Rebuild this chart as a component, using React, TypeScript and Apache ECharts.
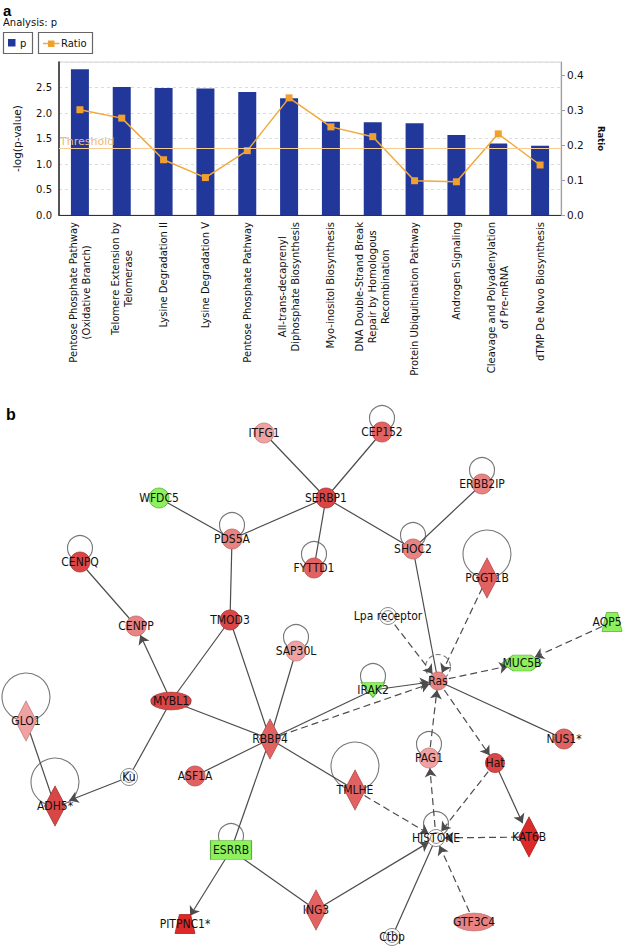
import React, { useEffect, useRef } from 'react';
import * as echarts from 'echarts';

// ---------- Panel a data ----------
const pathways: string[] = [
  'Pentose Phosphate Pathway\n(Oxidative Branch)',
  'Telomere Extension by\nTelomerase',
  'Lysine Degradation II',
  'Lysine Degradation V',
  'Pentose Phosphate Pathway',
  'All-trans-decaprenyl\nDiphosphate Biosynthesis',
  'Myo-inositol Biosynthesis',
  'DNA Double-Strand Break\nRepair by Homologous\nRecombination',
  'Protein Ubiquitination Pathway',
  'Androgen Signaling',
  'Cleavage and Polyadenylation\nof Pre-mRNA',
  'dTMP De Novo Biosynthesis',
];
const negLogP: number[] = [2.86, 2.51, 2.49, 2.48, 2.41, 2.29, 1.83, 1.82, 1.8, 1.57, 1.4, 1.36];
const ratio: number[] = [0.301, 0.277, 0.158, 0.107, 0.184, 0.335, 0.252, 0.224, 0.098, 0.095, 0.232, 0.143];
const thresholdValue = 1.3;

// ---------- Panel b data ----------
// [gene, x, y, shape, expression level (-1 down, 0 none, 1..5 up)]
const genes: [string, number, number, string, number][] = [
  ['ITFG1', 264, 433, 'circle', 1],
  ['CEP152', 382, 432, 'circle', 3],
  ['SERBP1', 326, 498, 'circle', 4],
  ['WFDC5', 159, 498, 'circle', -1],
  ['ERBB2IP', 482, 484, 'circle', 2],
  ['PDS5A', 232, 539, 'circle', 2],
  ['SHOC2', 413, 549, 'circle', 2],
  ['FYTTD1', 314, 568, 'circle', 3],
  ['CENPQ', 80, 562, 'circle', 4],
  ['PGGT1B', 487, 578, 'diamond', 3],
  ['Lpa receptor', 388, 616, 'complex', 0],
  ['AQP5', 612, 622, 'transporter', -1],
  ['CENPP', 136, 626, 'circle', 2],
  ['TMOD3', 230, 620, 'circle', 4],
  ['SAP30L', 296, 651, 'circle', 1],
  ['MUC5B', 522, 663, 'hexagon', -1],
  ['GLO1', 26, 721, 'diamond', 1],
  ['MYBL1', 171, 701, 'ellipse', 4],
  ['IRAK2', 373, 690, 'kinase', -1],
  ['Ras', 438, 681, 'circle', 2],
  ['RBBP4', 270, 739, 'diamond', 3],
  ['NUS1*', 564, 739, 'circle', 3],
  ['PAG1', 429, 758, 'circle', 1],
  ['Hat', 495, 763, 'circle', 4],
  ['Ku', 129, 777, 'complex', 0],
  ['ASF1A', 195, 776, 'circle', 3],
  ['TMLHE', 355, 790, 'diamond', 3],
  ['ADH5*', 55, 806, 'diamond', 4],
  ['HISTONE', 436, 838, 'complex', 0],
  ['KAT6B', 529, 837, 'diamond', 5],
  ['ESRRB', 231, 850, 'rect', -1],
  ['PITPNC1*', 185, 924, 'transporter', 5],
  ['ING3', 316, 910, 'diamond', 3],
  ['Ctbp', 392, 937, 'complex', 0],
  ['GTF3C4', 474, 922, 'ellipse', 2],
];

// [source, target, relation]: binds = solid, acts = solid arrow, indirect = dashed arrow
const relations: [string, string, string][] = [
  ['ITFG1', 'SERBP1', 'binds'],
  ['CEP152', 'SERBP1', 'binds'],
  ['WFDC5', 'PDS5A', 'binds'],
  ['PDS5A', 'SERBP1', 'binds'],
  ['SERBP1', 'FYTTD1', 'binds'],
  ['SERBP1', 'SHOC2', 'binds'],
  ['ERBB2IP', 'SHOC2', 'binds'],
  ['PDS5A', 'TMOD3', 'binds'],
  ['CENPQ', 'CENPP', 'binds'],
  ['SHOC2', 'Ras', 'binds'],
  ['Lpa receptor', 'Ras', 'indirect'],
  ['PGGT1B', 'Ras', 'indirect'],
  ['Ras', 'MUC5B', 'indirect'],
  ['AQP5', 'MUC5B', 'indirect'],
  ['IRAK2', 'Ras', 'acts'],
  ['RBBP4', 'IRAK2', 'binds'],
  ['RBBP4', 'Ras', 'indirect'],
  ['Ras', 'NUS1*', 'binds'],
  ['Ras', 'Hat', 'indirect'],
  ['PAG1', 'Ras', 'indirect'],
  ['HISTONE', 'PAG1', 'indirect'],
  ['Hat', 'HISTONE', 'indirect'],
  ['Hat', 'KAT6B', 'acts'],
  ['KAT6B', 'HISTONE', 'indirect'],
  ['TMLHE', 'HISTONE', 'indirect'],
  ['RBBP4', 'TMLHE', 'binds'],
  ['ING3', 'HISTONE', 'acts'],
  ['Ctbp', 'HISTONE', 'binds'],
  ['GTF3C4', 'HISTONE', 'indirect'],
  ['ESRRB', 'ING3', 'binds'],
  ['ESRRB', 'PITPNC1*', 'acts'],
  ['RBBP4', 'ESRRB', 'binds'],
  ['RBBP4', 'ASF1A', 'binds'],
  ['MYBL1', 'RBBP4', 'binds'],
  ['TMOD3', 'MYBL1', 'binds'],
  ['TMOD3', 'RBBP4', 'binds'],
  ['SAP30L', 'RBBP4', 'binds'],
  ['MYBL1', 'CENPP', 'acts'],
  ['MYBL1', 'Ku', 'binds'],
  ['Ku', 'ADH5*', 'acts'],
  ['GLO1', 'ADH5*', 'binds'],
];

// self-interactions: [gene, large loop, dashed]
const selfLoops: [string, boolean, boolean][] = [
  ['CEP152', false, false],
  ['ERBB2IP', false, false],
  ['PDS5A', false, false],
  ['SHOC2', false, false],
  ['FYTTD1', false, false],
  ['CENPQ', false, false],
  ['SAP30L', false, false],
  ['IRAK2', false, false],
  ['PAG1', false, false],
  ['HISTONE', false, false],
  ['Ras', false, true],
  ['ESRRB', false, false],
  ['PGGT1B', true, false],
  ['GLO1', true, false],
  ['ADH5*', true, false],
  ['TMLHE', true, false],
];

const levelColor: Record<string, string> = {
  '-1': '#8ef05c',
  '0': '#ffffff',
  '1': '#f0a2a2',
  '2': '#e88383',
  '3': '#e26262',
  '4': '#da4646',
  '5': '#dc2a2a',
};
const levelBorder: Record<string, string> = {
  '-1': '#5fae3c',
  '0': '#8a8a8a',
  '1': '#c58080',
  '2': '#c06868',
  '3': '#b85050',
  '4': '#a83a3a',
  '5': '#a82222',
};

const shapeSymbol: Record<string, { symbol: string; size: number | number[] }> = {
  circle: { symbol: 'circle', size: 20 },
  diamond: { symbol: 'diamond', size: [21, 40] },
  ellipse: { symbol: 'circle', size: [40, 18] },
  complex: { symbol: 'path://M50 0A50 50 0 1 1 49.9 0ZM50 18A32 32 0 1 1 49.9 18Z', size: 17 },
  rect: { symbol: 'rect', size: [41, 19] },
  kinase: { symbol: 'path://M0 0L100 0L50 100Z', size: [24, 15] },
  transporter: { symbol: 'path://M22 0L78 0L100 100L0 100Z', size: [20, 19] },
  hexagon: { symbol: 'path://M0 50L28 0L72 0L100 50L72 100L28 100Z', size: [40, 16] },
};

const FONT_A = 'DejaVu Sans';
const FONT_B = "'Liberation Sans Narrow', 'DejaVu Sans Condensed', 'Liberation Sans', Arial, sans-serif";

export default function App() {
  const ref = useRef<HTMLDivElement>(null);

  useEffect(() => {
    document.body.style.margin = '0';
    if (!ref.current) return;
    const chart = echarts.init(ref.current, undefined, { renderer: 'svg' });

    const posOf: Record<string, [number, number]> = {};
    genes.forEach((g) => (posOf[g[0]] = [g[1], g[2]]));

    const nodeData = genes.map(([name, x, y, shape, level]) => {
      const s = shapeSymbol[shape];
      let size: any = s.size;
      if (name === 'Ras') size = 18;
      if (name === 'Hat') size = 19;
      if (name === 'GTF3C4') size = [38, 18];
      const item: any = {
        name,
        value: [x, y],
        symbol: s.symbol,
        symbolSize: size,
        itemStyle: {
          color: levelColor[String(level)],
          borderColor: levelBorder[String(level)],
          borderWidth: level === 0 ? 1 : 0.8,
        },
      };
      if (name === 'AQP5') item.label = { offset: [-5, 0] };
      return item;
    });

    const linkData = relations.map(([source, target, rel]) => ({
      source,
      target,
      symbol: rel === 'binds' ? ['none', 'none'] : ['none', 'arrow'],
      symbolSize: [4, 9],
      lineStyle: {
        type: rel === 'indirect' ? [7, 4] : 'solid',
      },
    }));

    const loopData = selfLoops.map(([name, big, dashed]) => {
      const [x, y] = posOf[name];
      const r = big ? 24 : 12.5;
      const off = big ? 24 : 14;
      return {
        value: [x, y - off],
        symbolSize: 2 * r,
        itemStyle: {
          color: 'rgba(0,0,0,0)',
          borderColor: '#555',
          borderWidth: 1.1,
          borderType: dashed ? [5, 3] : 'solid',
        },
      };
    });

    const fmt1 = (v: number) => v.toFixed(1);

    const option: any = {
      animation: false,
      textStyle: { fontFamily: FONT_A },
      grid: [
        { left: 0, top: 0, width: 625, height: 949, show: false },
        { left: 59, top: 62, width: 502, height: 153, show: true, borderColor: '#d4d4d4', borderWidth: 1 },
      ],
      xAxis: [
        { type: 'value', gridIndex: 0, min: 0, max: 625, show: false },
        {
          type: 'category',
          gridIndex: 1,
          data: pathways,
          axisLine: { lineStyle: { color: '#333', width: 1.2 } },
          axisTick: { show: false },
          axisLabel: {
            interval: 0,
            rotate: 90,
            margin: 7,
            formatter: (v: string) => v.split('\n').map((l) => `{c|${l}}`).join('\n'),
            rich: {
              c: { align: 'center', fontSize: 10, lineHeight: 13, color: '#111', fontFamily: FONT_A },
            },
          },
        },
      ],
      yAxis: [
        { type: 'value', gridIndex: 0, min: 0, max: 949, inverse: true, show: false },
        {
          type: 'value',
          gridIndex: 1,
          min: 0,
          max: 3,
          interval: 0.5,
          name: '-log(p-value)',
          nameLocation: 'middle',
          nameGap: 37,
          nameRotate: 90,
          nameTextStyle: { fontSize: 10.5, color: '#111', fontFamily: FONT_A },
          axisLine: { show: true, lineStyle: { color: '#222', width: 1.5 } },
          axisTick: { show: false },
          axisLabel: { showMaxLabel: false, formatter: fmt1, fontSize: 10, color: '#111', margin: 7, fontFamily: FONT_A },
          splitLine: { show: true, lineStyle: { type: [3, 3], color: '#dcdcdc' } },
        },
        {
          type: 'value',
          gridIndex: 1,
          position: 'right',
          min: 0,
          max: 0.4375,
          interval: 0.1,
          name: 'Ratio',
          nameLocation: 'middle',
          nameGap: 35,
          nameRotate: -90,
          nameTextStyle: { fontSize: 8.5, fontWeight: 'bold', color: '#111', fontFamily: FONT_A },
          axisLine: { show: true, lineStyle: { color: '#a0a0a0', width: 1.2 } },
          axisTick: { show: true, length: 4, lineStyle: { color: '#a0a0a0' } },
          axisLabel: { showMaxLabel: false, formatter: fmt1, fontSize: 10.5, color: '#111', margin: 6, fontFamily: FONT_A },
          splitLine: { show: false },
        },
      ],
      graphic: [
        { type: 'text', x: 3, y: 10, style: { text: 'a', fontSize: 15, fontWeight: 'bold', fontFamily: 'Liberation Sans', fill: '#000', verticalAlign: 'middle' } },
        { type: 'text', x: 3, y: 22.5, style: { text: 'Analysis: p', fontSize: 10, fontFamily: FONT_A, fill: '#111', verticalAlign: 'middle' } },
        { type: 'rect', shape: { x: 3.5, y: 32.5, width: 29, height: 21 }, style: { fill: '#fff', stroke: '#666', lineWidth: 1.2 } },
        { type: 'rect', shape: { x: 8, y: 39, width: 7.5, height: 7.5 }, style: { fill: '#22379a' } },
        { type: 'text', x: 20, y: 43, style: { text: 'p', fontSize: 10, fontFamily: FONT_A, fill: '#111', verticalAlign: 'middle' } },
        { type: 'rect', shape: { x: 38.5, y: 32.5, width: 54, height: 21 }, style: { fill: '#fff', stroke: '#666', lineWidth: 1.2 } },
        { type: 'line', shape: { x1: 43, y1: 43.5, x2: 59.5, y2: 43.5 }, style: { stroke: '#f0a93c', lineWidth: 1.5 } },
        { type: 'rect', shape: { x: 48, y: 40.5, width: 6.5, height: 6.5 }, style: { fill: '#f0a030' } },
        { type: 'text', x: 61, y: 43.5, style: { text: 'Ratio', fontSize: 10, fontFamily: FONT_A, fill: '#111', verticalAlign: 'middle' } },
        { type: 'text', x: 6, y: 414, style: { text: 'b', fontSize: 16, fontWeight: 'bold', fontFamily: 'Liberation Sans', fill: '#000', verticalAlign: 'middle' } },
      ],
      series: [
        {
          type: 'bar',
          xAxisIndex: 1,
          yAxisIndex: 1,
          data: negLogP,
          barWidth: 18,
          itemStyle: { color: '#22379a' },
          silent: true,
          markLine: {
            silent: true,
            symbol: 'none',
            lineStyle: { color: '#f7cc92', type: 'solid', width: 1 },
            label: {
              position: 'insideStartTop',
              formatter: 'Threshold',
              color: '#f1bb6c',
              fontSize: 11,
              fontFamily: FONT_A,
              distance: [1, 2],
            },
            data: [{ yAxis: thresholdValue }],
          },
        },
        {
          type: 'line',
          xAxisIndex: 1,
          yAxisIndex: 2,
          data: ratio,
          symbol: 'rect',
          symbolSize: 7,
          lineStyle: { color: '#f0aa3c', width: 1.5 },
          itemStyle: { color: '#f0a030' },
          silent: true,
        },
        {
          type: 'scatter',
          xAxisIndex: 0,
          yAxisIndex: 0,
          z: 1,
          silent: true,
          symbol: 'circle',
          data: loopData,
        },
        {
          type: 'graph',
          coordinateSystem: 'cartesian2d',
          xAxisIndex: 0,
          yAxisIndex: 0,
          layout: 'none',
          z: 3,
          silent: true,
          roam: false,
          data: nodeData,
          links: linkData,
          edgeSymbolSize: [4, 9],
          lineStyle: { color: '#4c4c4c', width: 1.2, opacity: 1, curveness: 0 },
          label: {
            show: true,
            position: 'inside',
            fontSize: 12,
            color: '#111',
            fontFamily: FONT_B,
          },
          emphasis: { disabled: true },
        },
      ],
    };

    chart.setOption(option);
    return () => chart.dispose();
  }, []);

  return <div ref={ref} style={{ width: 625, height: 949, background: '#fff' }} />;
}
